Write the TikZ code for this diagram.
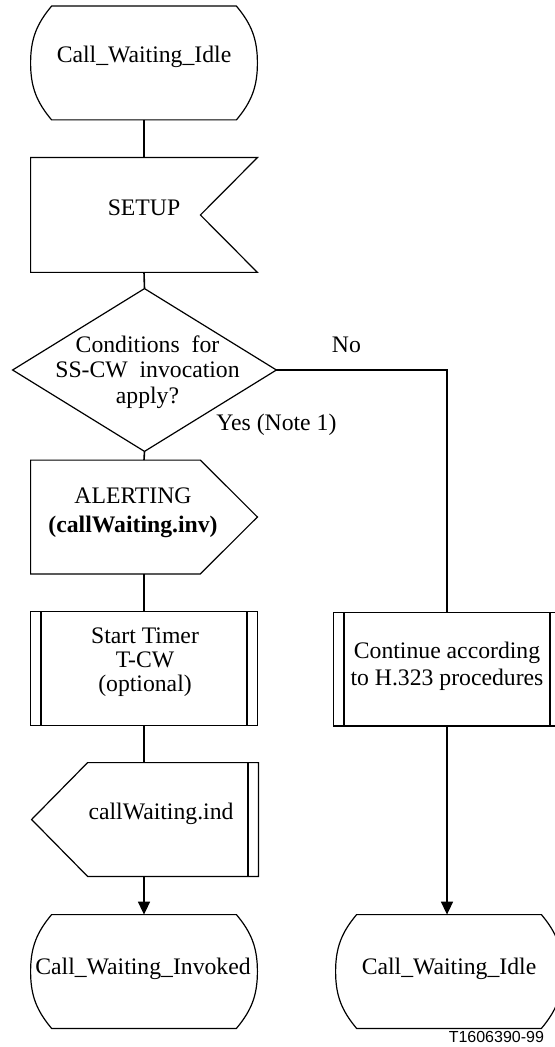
\documentclass[tikz,border=0pt]{standalone}
\usepackage{fontspec}
\setmainfont{Liberation Serif}
\newfontfamily\figfont{Liberation Sans}
\usetikzlibrary{arrows.meta}

\tikzset{
  sym/.style={inner sep=0pt, minimum width=113pt, minimum height=56.5pt},
  outline/.style={line width=0.6pt},
  dbl/.style={line width=1.1pt},
  conn/.style={line width=0.8pt},
  flow/.style={conn, -{Triangle[width=6pt,length=6.5pt]}},
  txt/.style={align=center, font=\fontsize{11.85}{14}\selectfont},
  lskip/.style={font=\fontsize{11.85}{#1}\selectfont},
}

% SDL symbols drawn round an empty node
\newcommand{\statesym}[1]{%
  \draw[outline] ([xshift=10.5pt]#1.north west) -- ([xshift=-10.5pt]#1.north east)
    to[out=-50,in=90] (#1.east) to[out=-90,in=50] ([xshift=-10.5pt]#1.south east)
    -- ([xshift=10.5pt]#1.south west) to[out=130,in=-90] (#1.west)
    to[out=90,in=-130] ([xshift=10.5pt]#1.north west) -- cycle;}
\newcommand{\inputsym}[1]{%
  \draw[outline] (#1.north west) -- (#1.north east) -- ([xshift=-28.5pt]#1.east)
    -- (#1.south east) -- (#1.south west) -- cycle;}
\newcommand{\outputsym}[1]{%
  \draw[outline] (#1.north west) -- ([xshift=-28.5pt]#1.north east) -- (#1.east)
    -- ([xshift=-28.5pt]#1.south east) -- (#1.south west) -- cycle;}
\newcommand{\decisionsym}[1]{%
  \draw[outline] (#1.north) -- (#1.east) -- (#1.south) -- (#1.west) -- cycle;}
\newcommand{\tasksym}[1]{%
  \draw[outline] (#1.north west) rectangle (#1.south east);
  \draw[dbl] ([xshift=5.25pt]#1.north west) -- ([xshift=5.25pt]#1.south west)
    ([xshift=-5.25pt]#1.north east) -- ([xshift=-5.25pt]#1.south east);}
\newcommand{\indsym}[1]{%
  \draw[outline] ([xshift=28pt]#1.north west) -- (#1.north east) -- (#1.south east)
    -- ([xshift=28pt]#1.south west) -- (#1.west) -- cycle;
  \draw[dbl] ([xshift=-5.25pt]#1.north east) -- ([xshift=-5.25pt]#1.south east);}

\begin{document}
\begin{tikzpicture}[x=0.5pt, y=-0.5pt]
	\useasboundingbox (0,0) rectangle (554,1047);
	% left column
	\node[sym] (idle) at (144,63) {};
	\node[sym, minimum height=57pt] (setup) at (144,215) {};
	\node[sym, minimum width=131.5pt, minimum height=81pt] (dec) at (144.5,370) {};
	\node[sym] (alert) at (144,517) {};
	\node[sym] (timer) at (144,668.5) {};
	\node[sym] (ind) at (145,819.5) {};
	\node[sym] (invoked) at (144,971.5) {};
	% right column
	\node[sym] (cont) at (447,669) {};
	\node[sym] (idle2) at (449,971.5) {};

	\statesym{idle}
	\inputsym{setup}
	\decisionsym{dec}
	\outputsym{alert}
	\tasksym{timer}
	\indsym{ind}
	\statesym{invoked}
	\tasksym{cont}
	\statesym{idle2}

	\node[txt] (idle-t) at ([shift={(0,-6)}]idle) {Call\_Waiting\_Idle};
	\node[txt] (setup-t) at ([shift={(0,-7)}]setup) {SETUP};
	\node[txt, lskip=12.75pt] (dec-t) at ([shift={(3,2)}]dec) {Conditions~~for\\SS-CW~~invocation\\apply?};
	\node[txt, lskip=14.5pt] (alert-t) at ([shift={(-11,-4)}]alert) {ALERTING\\\textbf{(callWaiting.inv)}};
	\node[txt, lskip=12pt] (timer-t) at ([shift={(1,-6)}]timer) {Start Timer\\T-CW\\(optional)};
	\node[txt] (ind-t) at ([shift={(16,-6)}]ind) {callWaiting.ind};
	\node[txt] (invoked-t) at ([shift={(-1,-3)}]invoked) {Call\_Waiting\_Invoked};
	\node[txt, lskip=13.5pt] (cont-t) at ([shift={(0,-3)}]cont) {Continue according\\to H.323 procedures};
	\node[txt] (idle2-t) at ([shift={(0,-3)}]idle2) {Call\_Waiting\_Idle};

	% connectors
	\draw[conn] (idle.south) -- (setup.north);
	\draw[conn] (setup.south) -- (dec.north);
	\draw[conn] (dec.south) -- (alert.north);
	\draw[conn] (alert.south) -- (timer.north);
	\draw[conn] (timer.south) -- (ind.north -| timer.south);
	\draw[flow] (ind.south -| invoked.north) -- (invoked.north);
	\draw[conn] (dec.east) -| (cont.north);
	\draw[flow] (cont.south) -- (idle2.north -| cont.south);

	\node[txt] (no) at ([shift={(70,-25)}]dec.east) {No};
	\node[txt] (yes) at ([shift={(0,55)}]dec.east) {Yes (Note 1)};
	\node[anchor=east, font=\figfont\fontsize{8}{9}\selectfont] (fig) at (551,1037) {T1606390-99};
\end{tikzpicture}
\end{document}
